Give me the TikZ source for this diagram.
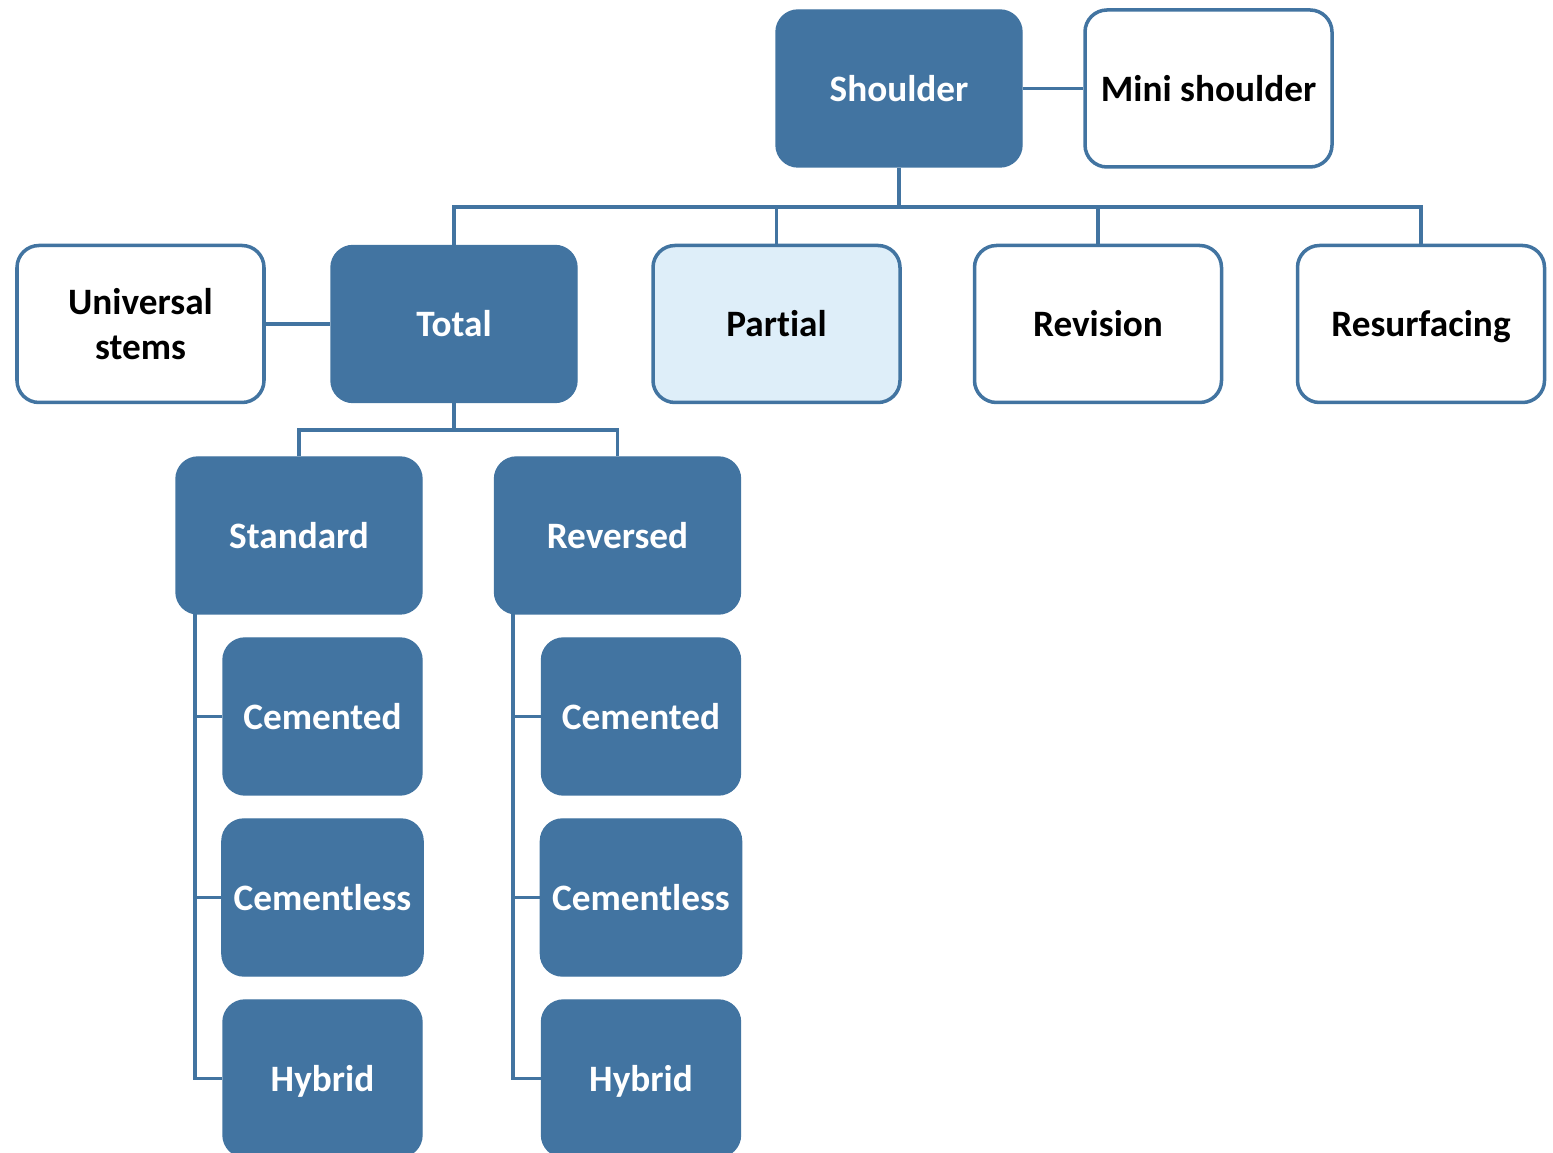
\documentclass[tikz,border=0pt]{standalone}
\usepackage{fontspec}
\setmainfont[RawFeature={-liga;-clig;-calt;-dlig}]{Carlito}
\usetikzlibrary{positioning}
\definecolor{boxblue}{RGB}{66,116,161}
\definecolor{paleblue}{RGB}{222,238,249}

\begin{document}
\begin{tikzpicture}[x=1cm,y=1cm,
    every node/.style={rounded corners=0.22cm,minimum height=1.57cm,align=center,
                       text height=1.8ex,text depth=0.3ex,
                       font=\fontsize{10.6}{12.6}\selectfont\bfseries},
    darkbox/.style={fill=boxblue,draw=boxblue,text=white,minimum width=2.46cm},
    lightbox/.style={fill=white,draw=boxblue,line width=1pt,text=black,minimum width=2.47cm},
    subbox/.style={darkbox,minimum width=1.99cm},
    link/.style={draw=boxblue,line width=1.1pt}]
\clip (0,0) rectangle (15.53,-11.53);
\begin{scope}
    \node[darkbox] (Shoulder) at (8.99,-0.885) {Shoulder};
    \node[lightbox] (Mini) at (12.085,-0.885) {Mini shoulder};
    \node[lightbox,text height=,text depth=] (Universal) at (1.405,-3.24) {Universal\\stems};
    \node[darkbox] (Total) at (4.54,-3.24) {Total};
    \node[lightbox,fill=paleblue] (Partial) at (7.765,-3.24) {Partial};
    \node[lightbox] (Revision) at (10.98,-3.24) {Revision};
    \node[lightbox] (Resurfacing) at (14.21,-3.24) {Resurfacing};
    \node[darkbox] (Standard) at (2.99,-5.355) {Standard};
    \node[darkbox] (Reversed) at (6.175,-5.355) {Reversed};
    \node[subbox] (StdCem) at (3.225,-7.165) {Cemented};
    \node[subbox] (StdCless) at (3.225,-8.975) {Cementless};
    \node[subbox] (StdHyb) at (3.225,-10.785) {Hybrid};
    \node[subbox] (RevCem) at (6.41,-7.165) {Cemented};
    \node[subbox] (RevCless) at (6.41,-8.975) {Cementless};
    \node[subbox] (RevHyb) at (6.41,-10.785) {Hybrid};
\end{scope}
% joints of the tree
\coordinate (topfork) at (8.99,-2.07);
\coordinate (totfork) at (4.54,-4.30);
\coordinate (stdrail) at (1.95,-6.14);
\coordinate (revrail) at (5.13,-6.14);
\begin{scope}[every path/.style={link}]
    \path (Shoulder) -- (Mini);
    \path (Universal) -- (Total);
    \path (Shoulder.south) -- (topfork);
    \path (Total.north) |- (topfork);
    \path (Partial.north) |- (topfork);
    \path (Revision.north) |- (topfork);
    \path (Resurfacing.north) |- (topfork);
    \path (Total.south) -- (totfork);
    \path (Standard.north) |- (totfork);
    \path (Reversed.north) |- (totfork);
    \path (stdrail) |- (StdCem.west);
    \path (stdrail) |- (StdCless.west);
    \path (stdrail) |- (StdHyb.west);
    \path (revrail) |- (RevCem.west);
    \path (revrail) |- (RevCless.west);
    \path (revrail) |- (RevHyb.west);
\end{scope}
\end{tikzpicture}
\end{document}
